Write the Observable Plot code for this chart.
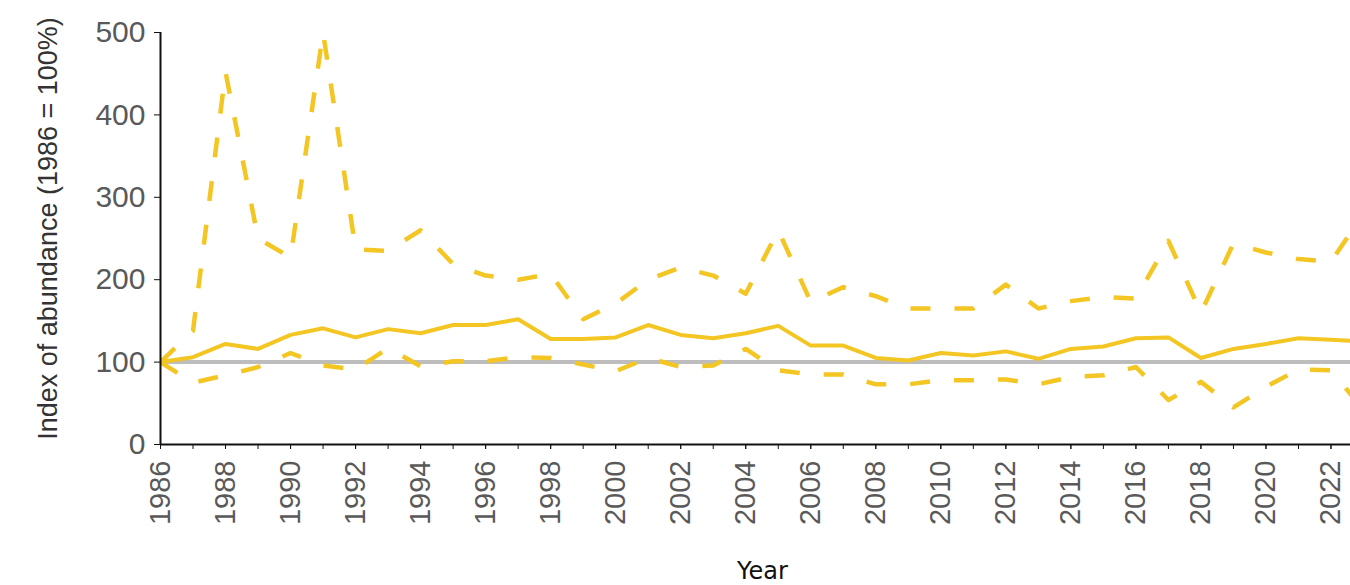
<!DOCTYPE html>
<html>
<head>
<meta charset="utf-8">
<script src="https://cdn.jsdelivr.net/npm/d3@7"></script>
<script src="https://cdn.jsdelivr.net/npm/@observablehq/plot@0.6"></script>
<style>
  html, body { margin: 0; padding: 0; background: #fff; }
  #chart svg { display: block; }
</style>
</head>
<body>
<div id="chart"></div>
<script>
// ---- data ----
const years = [1986,1987,1988,1989,1990,1991,1992,1993,1994,1995,1996,1997,1998,1999,2000,2001,2002,2003,2004,2005,2006,2007,2008,2009,2010,2011,2012,2013,2014,2015,2016,2017,2018,2019,2020,2021,2022,2023];
const indexValues = [100,106,122,116,133,141,130,140,135,145,145,152,128,128,130,145,133,129,135,144,120,120,105,102,111,108,113,104,116,119,129,130,105,116,122,129,127,125];
const upperCI = [100,138,452,250,227,500,237,235,260,219,205,200,207,152,171,200,215,205,183,260,173,191,180,165,165,165,194,165,174,179,177,247,160,244,233,225,222,280];
const lowerCI = [100,75,84,94,111,96,91,117,95,101,101,106,105,97,89,105,94,96,116,90,85,85,73,73,78,78,79,73,82,84,94,54,76,45,70,91,90,42];
const yTicks = [0,100,200,300,400,500];
const xMinorTicks = [1986,1987,1988,1989,1990,1991,1992,1993,1994,1995,1996,1997,1998,1999,2000,2001,2002,2003,2004,2005,2006,2007,2008,2009,2010,2011,2012,2013,2014,2015,2016,2017,2018,2019,2020,2021,2022];
const xLabelTicks = [1986,1988,1990,1992,1994,1996,1998,2000,2002,2004,2006,2008,2010,2012,2014,2016,2018,2020,2022];
const baseline = [100];
const yTitle = "Index of abundance (1986 = 100%)";
const xTitle = "Year";

const rows = years.map((y, i) => ({year: y, index: indexValues[i], upper: upperCI[i], lower: lowerCI[i]}));

const yellow = "#f3c623";
const tickGray = "#595959";

const chart = Plot.plot({
  width: 1350,
  height: 585,
  marginLeft: 160,
  marginRight: 0,
  marginTop: 32,
  marginBottom: 141,
  style: {fontFamily: "'Liberation Sans', Arial, sans-serif", fontSize: "30px", background: "#fff"},
  x: {domain: [1986, 2022.6]},
  y: {domain: [0, 500]},
  marks: [
    Plot.ruleY(baseline, {stroke: "#bdbdbd", strokeWidth: 4}),
    Plot.line(rows, {x: "year", y: "upper", stroke: yellow, strokeWidth: 4.5, strokeDasharray: "20,24", strokeLinecap: "butt", clip: true}),
    Plot.line(rows, {x: "year", y: "lower", stroke: yellow, strokeWidth: 4.5, strokeDasharray: "20,24", strokeLinecap: "butt", clip: true}),
    Plot.line(rows, {x: "year", y: "index", stroke: yellow, strokeWidth: 4, clip: true}),
    Plot.ruleX([1986], {stroke: "#111", strokeWidth: 2}),
    Plot.ruleY([0], {stroke: "#111", strokeWidth: 2}),
    Plot.axisY({ticks: yTicks, tickSize: 6, tickPadding: 9, stroke: "#111", fill: tickGray, fontSize: 30, label: null}),
    Plot.axisX({ticks: xMinorTicks, tickSize: 5, tickFormat: () => "", stroke: "#111", label: null}),
    Plot.axisX({ticks: xLabelTicks, tickSize: 5, tickPadding: 11, tickRotate: -90, tickFormat: d => String(d), stroke: "#111", fill: tickGray, fontSize: 29, label: null}),
    Plot.text([yTitle], {frameAnchor: "left", textAnchor: "middle", dx: -112, dy: -10, rotate: -90, fontSize: 27, fill: "#333", text: d => d}),
    Plot.text([xTitle], {frameAnchor: "bottom", dx: 7, dy: 134, fontSize: 24, fill: "#111", fontFamily: "'DejaVu Sans', sans-serif", text: d => d})
  ]
});
document.getElementById("chart").appendChild(chart);
</script>
</body>
</html>
